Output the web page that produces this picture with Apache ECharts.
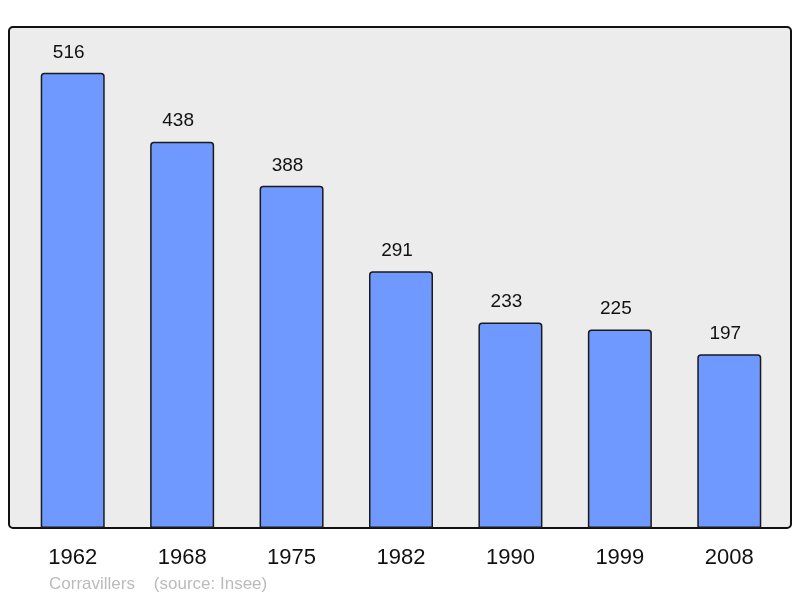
<!DOCTYPE html>
<html>
<head>
<meta charset="utf-8">
<script src="https://cdn.jsdelivr.net/npm/echarts@6/dist/echarts.min.js"></script>
<style>
  html, body { margin: 0; padding: 0; background: #fff; }
  #chart { width: 800px; height: 598px; }
</style>
</head>
<body>
<div id="chart"></div>
<script>
// population by census year
var years = ['1962', '1968', '1975', '1982', '1990', '1999', '2008'];
var population = [516, 438, 388, 291, 233, 225, 197];
var footer = 'Corravillers    (source: Insee)';

var chart = echarts.init(document.getElementById('chart'));

chart.setOption({
    animation: false,
    graphic: [
        {
            type: 'rect',
            z: -10,
            shape: { x: 9, y: 27, width: 782, height: 501, r: 4 },
            style: { fill: '#ececec', stroke: '#111', lineWidth: 2 }
        },
        {
            type: 'text',
            left: 49,
            top: 576,
            style: {
                text: footer,
                fill: '#bbbbbb',
                font: '17px "Liberation Sans", Arial, sans-serif'
            }
        }
    ],
    grid: { left: 18, right: 16, top: 27, bottom: 70 },
    xAxis: {
        type: 'category',
        data: years,
        axisLine: { show: false },
        axisTick: { show: false },
        axisLabel: {
            margin: 19,
            color: '#111',
            fontSize: 22,
            fontFamily: 'Liberation Sans'
        }
    },
    yAxis: {
        type: 'value',
        min: 0,
        max: 568,
        show: false,
        splitLine: { show: false }
    },
    series: [{
        type: 'bar',
        data: population,
        barWidth: 64,
        itemStyle: {
            color: '#7099ff',
            borderColor: '#1a1a1a',
            borderWidth: 1.5,
            borderRadius: [3, 3, 0, 0]
        },
        label: {
            show: true,
            position: 'top',
            distance: 11,
            offset: [-4, 0],
            color: '#111',
            fontSize: 19,
            fontFamily: 'Liberation Sans'
        }
    }]
});
</script>
</body>
</html>
